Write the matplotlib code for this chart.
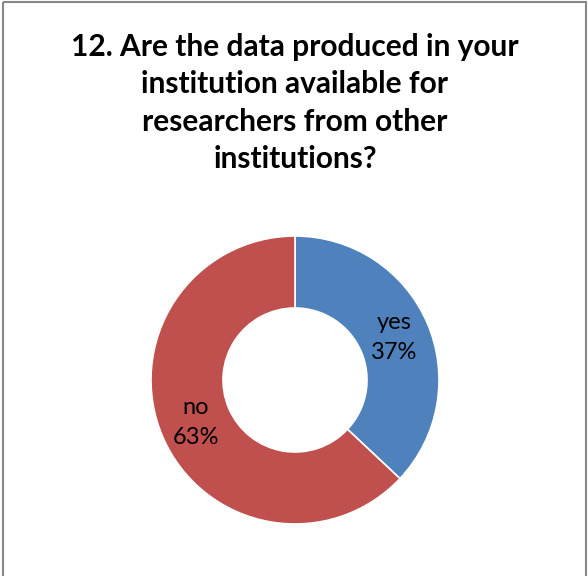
import numpy as np
import matplotlib.pyplot as plt
from matplotlib.patches import Rectangle

categories = ["yes", "no"]
shares = [37, 63]
colors = ["#4F81BD", "#C0504D"]
title = ("12. Are the data produced in your\ninstitution available for\n"
         "researchers from other\ninstitutions?")

W, H = 588, 576
fig = plt.figure(figsize=(W / 100, H / 100), dpi=100)

# chart frame (bottom edge falls outside the image)
frame = fig.add_axes([0, 0, 1, 1])
frame.set_xlim(0, W)
frame.set_ylim(H, 0)
frame.axis("off")
frame.add_patch(Rectangle((2.5, 1.5), 583, 600, fill=False, edgecolor="#888888", linewidth=1.5))

fig.text(295 / W, 1 - 103 / H, title, ha="center", va="center", fontsize=21.5,
         fontweight="bold", family="Lato", linespacing=1.41)

# donut
cx, cy, r = 295, 380, 144
ax = fig.add_axes([(cx - r) / W, (H - cy - r) / H, 2 * r / W, 2 * r / H])
wedges, _ = ax.pie(shares, colors=colors, startangle=90, counterclock=False,
                   radius=1, wedgeprops=dict(width=0.5, edgecolor="white", linewidth=1.2))
ax.set_xlim(-1, 1)
ax.set_ylim(-1, 1)
ax.set_aspect("equal")
ax.axis("off")

for w, cat, v in zip(wedges, categories, shares):
    mid = np.deg2rad((w.theta1 + w.theta2) / 2)
    ax.text(0.75 * np.cos(mid), 0.75 * np.sin(mid), f"{cat}\n{v}%", ha="center", va="center",
            fontsize=17, family="Lato", linespacing=1.52)

fig.savefig("out.png", dpi=100)
